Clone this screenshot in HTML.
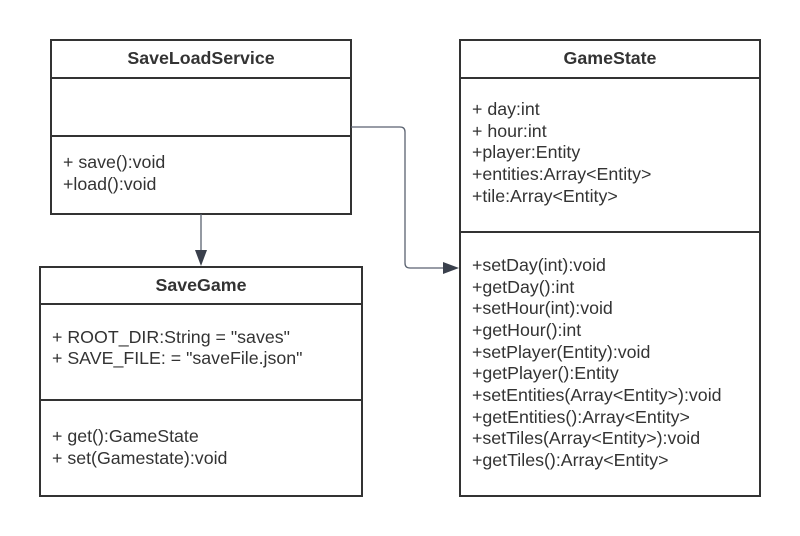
<!DOCTYPE html>
<html><head><meta charset="utf-8"><style>
html,body{margin:0;padding:0;background:#fff;width:800px;height:536px;overflow:hidden}
text{font-family:"Liberation Sans",Arial,sans-serif;fill:#333;font-size:17.8px}
.t{font-weight:bold;font-size:17.8px;text-anchor:middle}
</style></head><body>
<svg width="800" height="536" xmlns="http://www.w3.org/2000/svg">
<g fill="none" stroke="#333" stroke-width="2">
<rect x="51" y="40" width="300" height="174"/>
<line x1="51" y1="78" x2="351" y2="78"/>
<line x1="51" y1="136" x2="351" y2="136"/>
<rect x="40" y="267" width="322" height="229"/>
<line x1="40" y1="304" x2="362" y2="304"/>
<line x1="40" y1="400" x2="362" y2="400"/>
<rect x="460" y="40" width="300" height="456"/>
<line x1="460" y1="78" x2="760" y2="78"/>
<line x1="460" y1="232" x2="760" y2="232"/>
</g>
<g fill="none" stroke="#5a6270" stroke-width="1.3">
<path d="M351 127 H400 Q405 127 405 132 V263 Q405 268 410 268 H445"/>
<line x1="201" y1="214" x2="201" y2="252"/>
</g>
<polygon points="443,262 459,268 443,274" fill="#3a404c"/>
<polygon points="195,250 207,250 201,266" fill="#3a404c"/>
<text class="t" x="201" y="64">SaveLoadService</text>
<text x="63" y="168">+ save():void</text>
<text x="63" y="190">+load():void</text>
<text class="t" x="201" y="291">SaveGame</text>
<text x="52" y="343">+ ROOT_DIR:String = "saves"</text>
<text x="52" y="364">+ SAVE_FILE: = "saveFile.json"</text>
<text x="52" y="442">+ get():GameState</text>
<text x="52" y="464">+ set(Gamestate):void</text>
<text class="t" x="610" y="64">GameState</text>
<g>
<text x="472" y="115">+ day:int</text>
<text x="472" y="137">+ hour:int</text>
<text x="472" y="158">+player:Entity</text>
<text x="472" y="180">+entities:Array&lt;Entity&gt;</text>
<text x="472" y="202">+tile:Array&lt;Entity&gt;</text>
<text x="472" y="271">+setDay(int):void</text>
<text x="472" y="293">+getDay():int</text>
<text x="472" y="314">+setHour(int):void</text>
<text x="472" y="336">+getHour():int</text>
<text x="472" y="358">+setPlayer(Entity):void</text>
<text x="472" y="379">+getPlayer():Entity</text>
<text x="472" y="401">+setEntities(Array&lt;Entity&gt;):void</text>
<text x="472" y="423">+getEntities():Array&lt;Entity&gt;</text>
<text x="472" y="444">+setTiles(Array&lt;Entity&gt;):void</text>
<text x="472" y="466">+getTiles():Array&lt;Entity&gt;</text>
</g>
</svg>
</body></html>
